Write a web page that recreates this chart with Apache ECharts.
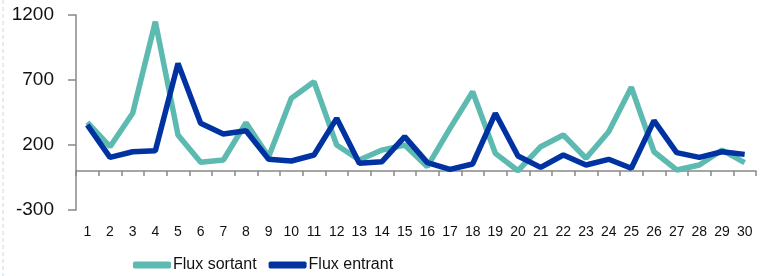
<!DOCTYPE html>
<html><head><meta charset="utf-8">
<script src="https://cdn.jsdelivr.net/npm/echarts@6/dist/echarts.min.js"></script>
<style>html,body{margin:0;padding:0;background:#fff}#c{width:767px;height:276px}</style>
</head><body><div id="c"></div>
<script>
const categories = ['1','2','3','4','5','6','7','8','9','10','11','12','13','14','15','16','17','18','19','20','21','22','23','24','25','26','27','28','29','30'];
const fluxSortant = [375,187,444,1148,277,67,85,371,110,559,687,200,85,161,200,33,328,610,136,2,187,277,98,302,644,148,8,46,161,64];
const fluxEntrant = [354,105,148,156,828,367,285,310,90,77,123,405,59,72,264,64,13,54,444,115,28,123,46,90,21,387,141,105,148,128];
const seriesNames = ['Flux sortant','Flux entrant'];
const yTicks = [-300,200,700,1200];

const chart = echarts.init(document.getElementById('c'));
const FONT = '"Liberation Sans", Arial, sans-serif';
chart.setOption({
  animation:false,
  backgroundColor:'#fff',
  grid:{left:76,right:11,top:15,bottom:66},
  legend:{
    data:seriesNames, left:128, top:252, itemGap:12, itemWidth:38, itemHeight:7,
    icon:'roundRect',
    textStyle:{fontFamily:FONT,fontSize:16,color:'#111',padding:[0,0,0,-3]}
  },
  xAxis:{
    type:'category', data:categories, boundaryGap:true,
    axisLine:{onZero:true,lineStyle:{color:'#888',width:1.5}},
    axisTick:{show:true,length:5,alignWithLabel:false,lineStyle:{color:'#888',width:1.5}},
    axisLabel:{fontFamily:FONT,fontSize:14,color:'#111',margin:15,interval:0}
  },
  yAxis:{
    type:'value', min:yTicks[0], max:yTicks[yTicks.length-1], interval:500,
    splitLine:{show:false},
    axisLine:{show:true,lineStyle:{color:'#888',width:1.5}},
    axisTick:{show:true,length:8,lineStyle:{color:'#888',width:1.5}},
    axisLabel:{fontFamily:FONT,fontSize:19,color:'#111',margin:22,formatter:v=>String(v)}
  },
  series:[
    {name:seriesNames[0],type:'line',data:fluxSortant,symbol:'none',color:'#5DBAB1',
     lineStyle:{width:5.5,color:'#5DBAB1'}},
    {name:seriesNames[1],type:'line',data:fluxEntrant,symbol:'none',color:'#0033A1',
     lineStyle:{width:5.5,color:'#0033A1'}}
  ],
  graphic:[
    {type:'line',shape:{x1:3,y1:0,x2:3,y2:276},style:{stroke:'#c8d8ec',lineWidth:1,lineDash:[4,3]}}
  ]
});
</script></body></html>
